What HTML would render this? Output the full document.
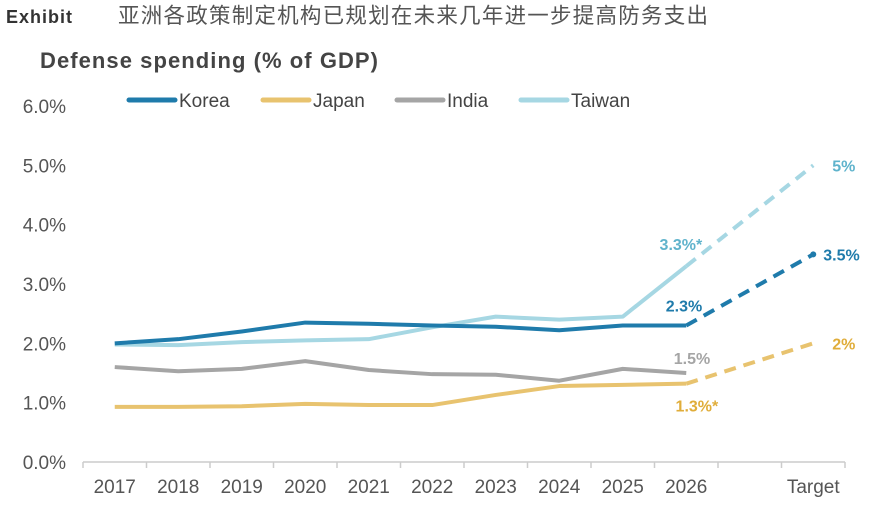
<!DOCTYPE html>
<html><head><meta charset="utf-8"><style>
body{margin:0;background:#fff;width:872px;height:508px;overflow:hidden;font-family:"Liberation Sans","Noto Sans CJK SC",sans-serif}
</style></head><body>
<svg id="c" width="872" height="508" font-family="Liberation Sans, Noto Sans CJK SC, sans-serif">
<text x="6" y="23" font-size="18" font-weight="bold" fill="#333" textLength="66">Exhibit</text>
<text x="118" y="23" font-size="21.5" fill="#555" textLength="590">亚洲各政策制定机构已规划在未来几年进一步提高防务支出</text>
<text x="40" y="68" font-size="22" font-weight="bold" fill="#444" textLength="338">Defense spending (% of GDP)</text>
<g id="legend"></g>
<g id="axes"></g><g id="plot"></g>
</svg>
<script>
const categories=["2017","2018","2019","2020","2021","2022","2023","2024","2025","2026","","Target"];
const yTicks=[0,1,2,3,4,5,6];
const korea=[2.0,2.07,2.2,2.35,2.33,2.3,2.28,2.22,2.3,2.3];
const japan=[0.93,0.93,0.94,0.98,0.96,0.96,1.13,1.28,1.3,1.32];
const india=[1.6,1.53,1.57,1.7,1.55,1.48,1.47,1.37,1.57,1.5];
const taiwan=[1.98,1.97,2.02,2.05,2.07,2.27,2.45,2.4,2.45,3.3];
const targets={korea:3.5,japan:2,taiwan:5};
const seriesNames=["Korea","Japan","India","Taiwan"];
const NS="http://www.w3.org/2000/svg";
const x0=83,x1=845,y0=462,yTop=106;
const slot=(x1-x0)/categories.length;
const X=i=>x0+(i+0.5)*slot;
const Y=v=>y0-(v/6)*(y0-yTop);
function mk(t,a,p){const e=document.createElementNS(NS,t);for(const k in a)e.setAttribute(k,a[k]);p.appendChild(e);return e;}
const axes=document.getElementById('axes'),plot=document.getElementById('plot'),leg=document.getElementById('legend');
yTicks.forEach(v=>{const t=mk('text',{x:66,y:Y(v)+7,'font-size':19,fill:'#555','text-anchor':'end'},axes);t.textContent=v.toFixed(1)+'%';

});
const ax=mk('line',{x1:x0,x2:x1,y1:y0,y2:y0,stroke:'#ccc','stroke-width':1.5},axes);


for(let i=0;i<=categories.length;i++){const tk=mk('line',{x1:x0+i*slot,x2:x0+i*slot,y1:y0,y2:y0+6,stroke:'#ccc','stroke-width':1.5},axes);

}
categories.forEach((c,i)=>{if(!c)return;const t=mk('text',{x:X(i),y:y0+31,'font-size':19,fill:'#555','text-anchor':'middle'},axes);t.textContent=c;

});
const colors={Korea:'#1f7bab',Japan:'#e8c36f',India:'#a5a5a5',Taiwan:'#a6d7e3'};
const lx=[129,263,397,521];
seriesNames.forEach((n,i)=>{const l=mk('line',{x1:lx[i],x2:lx[i]+46,y1:100,y2:100,stroke:colors[n],'stroke-width':5,'stroke-linecap':'round'},leg);


const t=mk('text',{x:lx[i]+50,y:107,'font-size':19,fill:'#444'},leg);t.textContent=n;

});
function line(vals,color,name){const p=mk('polyline',{points:vals.map((v,i)=>X(i)+','+Y(v)).join(' '),fill:'none',stroke:color,'stroke-width':4,'stroke-linejoin':'round'},plot);

}
function dash(last,tv,color,name){const l=mk('line',{x1:X(9),y1:Y(last),x2:X(11),y2:Y(tv),stroke:color,'stroke-width':4,'stroke-dasharray':'12 8'},plot);

}
function lab(x,y,txt,color,name,anchor){const t=mk('text',{x:x,y:y,'font-size':16,'font-weight':'bold',fill:color,'text-anchor':anchor||'start'},plot);t.textContent=txt;

}
line(india,colors.India,'india');
line(japan,colors.Japan,'japan');dash(japan[9],targets.japan,colors.Japan,'japan');
line(taiwan,colors.Taiwan,'taiwan');dash(taiwan[9],targets.taiwan,colors.Taiwan,'taiwan');
line(korea,colors.Korea,'korea');dash(korea[9],targets.korea,colors.Korea,'korea');
const kd=mk('circle',{cx:X(11),cy:Y(targets.korea),r:3,fill:colors.Korea},plot);


lab(X(11)+19,Y(targets.taiwan)+6,targets.taiwan+'%','#5fb3cc','taiwan-target-label');
lab(X(11)+10,Y(targets.korea)+6,targets.korea.toFixed(1)+'%','#1f7bab','korea-target-label');
lab(X(11)+19,Y(targets.japan)+6,targets.japan+'%','#e0ad3a','japan-target-label');
lab(X(9)+16,Y(taiwan[9])-16,taiwan[9].toFixed(1)+'%*','#5fb3cc','taiwan-2026-label','end');
lab(X(9)+16,Y(korea[9])-14,korea[9].toFixed(1)+'%','#1f7bab','korea-2026-label','end');
lab(X(9)+24,Y(india[9])-9,india[9].toFixed(1)+'%','#a5a5a5','india-2026-label','end');
lab(X(9)+32,Y(japan[9])+28,'1.3%*','#e0ad3a','japan-2026-label','end');
</script>
</body></html>
